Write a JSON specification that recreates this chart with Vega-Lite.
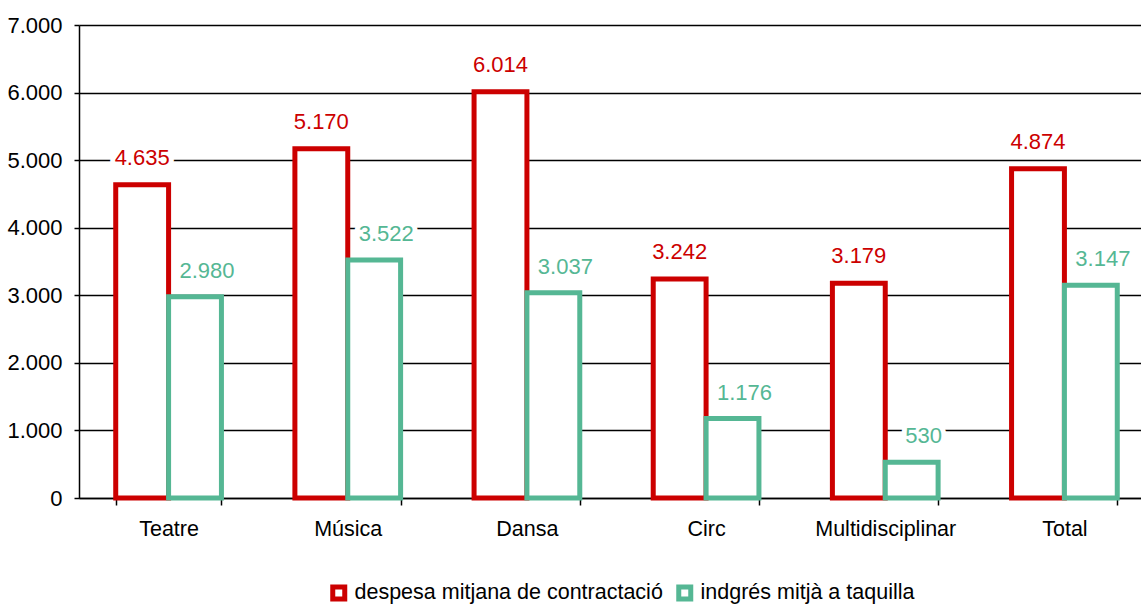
{
  "$schema": "https://vega.github.io/schema/vega-lite/v6.json",
  "autosize": "none",
  "width": 1062,
  "height": 473,
  "padding": {"left": 79, "top": 25, "right": 0, "bottom": 106},
  "background": "white",
  "config": {
    "locale": {"number": {"decimal": ",", "thousands": ".", "grouping": [3], "currency": ["", " €"]}},
    "font": "Liberation Sans",
    "view": {"stroke": null}
  },
  "data": {
    "values": [
      {"cat": "Teatre", "serie": "despesa mitjana de contractació", "valor": 4635},
      {"cat": "Teatre", "serie": "indgrés mitjà a taquilla", "valor": 2980},
      {"cat": "Música", "serie": "despesa mitjana de contractació", "valor": 5170},
      {"cat": "Música", "serie": "indgrés mitjà a taquilla", "valor": 3522},
      {"cat": "Dansa", "serie": "despesa mitjana de contractació", "valor": 6014},
      {"cat": "Dansa", "serie": "indgrés mitjà a taquilla", "valor": 3037},
      {"cat": "Circ", "serie": "despesa mitjana de contractació", "valor": 3242},
      {"cat": "Circ", "serie": "indgrés mitjà a taquilla", "valor": 1176},
      {"cat": "Multidisciplinar", "serie": "despesa mitjana de contractació", "valor": 3179},
      {"cat": "Multidisciplinar", "serie": "indgrés mitjà a taquilla", "valor": 530},
      {"cat": "Total", "serie": "despesa mitjana de contractació", "valor": 4874},
      {"cat": "Total", "serie": "indgrés mitjà a taquilla", "valor": 3147}
    ]
  },
  "encoding": {
    "x": {
      "field": "cat", "type": "nominal", "sort": null,
      "scale": {"paddingInner": 0.41, "paddingOuter": 0.205, "range": [0, 1075]},
      "axis": {"title": null, "labelAngle": 0, "tickBand": "extent", "tickSize": 7, "labelPadding": 13, "domainWidth": 1.5, "tickWidth": 1.5, "grid": false, "labelFont": "Liberation Sans", "labelFontSize": 21.5, "labelColor": "#000000", "domainColor": "#000000", "tickColor": "#000000"}
    },
    "xOffset": {"field": "serie", "type": "nominal", "sort": ["despesa mitjana de contractació", "indgrés mitjà a taquilla"]},
    "y": {
      "field": "valor", "type": "quantitative",
      "scale": {"domain": [0, 7000], "nice": false},
      "axis": {"title": null, "values": [0, 1000, 2000, 3000, 4000, 5000, 6000, 7000], "format": ",d", "tickSize": 5, "labelPadding": 12, "domainWidth": 1.5, "tickWidth": 1.5, "gridWidth": 1.5, "labelFont": "Liberation Sans", "labelFontSize": 22, "labelColor": "#000000", "domainColor": "#000000", "tickColor": "#000000", "gridColor": "#000000"}
    }
  },
  "layer": [
    {
      "transform": [{"filter": "datum.serie === 'despesa mitjana de contractació'"}],
      "mark": {"type": "text", "fontSize": 22, "font": "Liberation Sans", "baseline": "alphabetic", "dy": -20, "fill": "white", "stroke": "white", "strokeWidth": 10, "strokeJoin": "round"},
      "encoding": {"text": {"field": "valor", "type": "quantitative", "format": ",d"}}
    },
    {
      "transform": [{"filter": "datum.serie === 'indgrés mitjà a taquilla'"}],
      "mark": {"type": "text", "fontSize": 22, "font": "Liberation Sans", "baseline": "alphabetic", "dy": -19, "dx": 12, "fill": "white", "stroke": "white", "strokeWidth": 10, "strokeJoin": "round"},
      "encoding": {"text": {"field": "valor", "type": "quantitative", "format": ",d"}}
    },
    {
      "mark": {"type": "bar", "fill": "white", "strokeWidth": 5, "strokeJoin": "miter"},
      "encoding": {
        "stroke": {
          "field": "serie", "type": "nominal",
          "scale": {"domain": ["despesa mitjana de contractació", "indgrés mitjà a taquilla"], "range": ["#cc0000", "#55b794"]},
          "legend": {
            "title": null, "orient": "none", "legendX": 249, "legendY": 557, "direction": "horizontal",
            "symbolType": "square", "symbolSize": 144, "symbolStrokeWidth": 5, "columnPadding": 5, "labelOffset": 5, "labelLimit": 0,
            "labelFont": "Liberation Sans", "labelFontSize": 21.5, "labelColor": "#000000",
            "encode": {"symbols": {"update": {"fill": {"value": "white"}, "strokeWidth": {"value": 5}}}}
          }
        }
      }
    },
    {
      "transform": [{"filter": "datum.serie === 'despesa mitjana de contractació'"}],
      "mark": {"type": "text", "fontSize": 22, "font": "Liberation Sans", "baseline": "alphabetic", "dy": -20, "fill": "#cc0000"},
      "encoding": {"text": {"field": "valor", "type": "quantitative", "format": ",d"}}
    },
    {
      "transform": [{"filter": "datum.serie === 'indgrés mitjà a taquilla'"}],
      "mark": {"type": "text", "fontSize": 22, "font": "Liberation Sans", "baseline": "alphabetic", "dy": -19, "dx": 12, "fill": "#55b794"},
      "encoding": {"text": {"field": "valor", "type": "quantitative", "format": ",d"}}
    }
  ]
}
